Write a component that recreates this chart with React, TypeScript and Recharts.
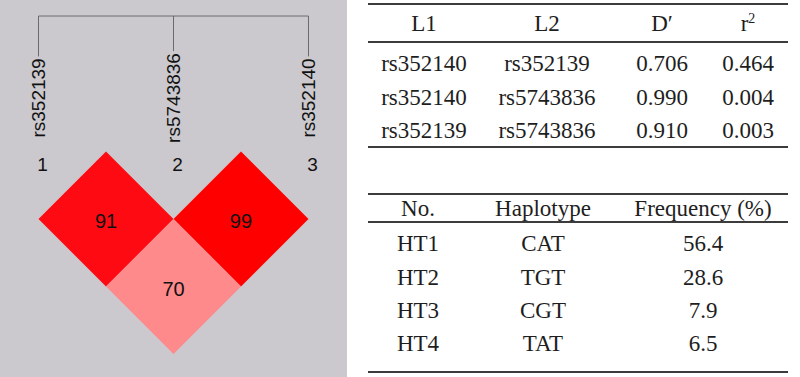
import React from 'react';
import { ScatterChart, Scatter, XAxis, YAxis, ReferenceLine } from 'recharts';

// ---- LD plot data ----
const MARKERS = ['rs352139', 'rs5743836', 'rs352140'];
const MARKER_NUMBERS = [1, 2, 3];
const LD_FIRST = [1, 2, 1];
const LD_SECOND = [2, 3, 3];
const LD_VALUES = [91, 99, 70];

// ---- table data ----
const LD_HEADERS = ['L1', 'L2', 'D\u2032', 'r'];
const LD_L1 = ['rs352140', 'rs352140', 'rs352139'];
const LD_L2 = ['rs352139', 'rs5743836', 'rs5743836'];
const LD_DPRIME = ['0.706', '0.990', '0.910'];
const LD_R2 = ['0.464', '0.004', '0.003'];

const HAP_HEADERS = ['No.', 'Haplotype', 'Frequency (%)'];
const HAP_NO = ['HT1', 'HT2', 'HT3', 'HT4'];
const HAP_SEQ = ['CAT', 'TGT', 'CGT', 'TAT'];
const HAP_FREQ = ['56.4', '28.6', '7.9', '6.5'];

// ---- layout ----
const PANEL_W = 347;
const PANEL_H = 377;
const X_DOMAIN: [number, number] = [0.7148, 3.2852];
const Y_DOMAIN: [number, number] = [-2.2444, 3.3407];
const PX_X = PANEL_W / (X_DOMAIN[1] - X_DOMAIN[0]);
const PX_Y = PANEL_H / (Y_DOMAIN[1] - Y_DOMAIN[0]);
const BRACKET_LEVEL = -2.007;
const NAME_LEVEL = -0.793;
const NUMBER_LEVEL = 0.2;
const NAME_FONT = 19;
const SANS = 'Liberation Sans, Arial, sans-serif';
const SERIF = '"Liberation Serif", "Times New Roman", serif';

const ldColor = (v: number) => (v >= 98 ? '#ff0000' : v >= 85 ? '#fe0a12' : '#ff8a8c');

const nameLen = (s: string) => {
  let w = 0;
  for (const ch of s) w += ch === 'r' ? 0.333 : ch === 's' ? 0.5 : 0.556;
  return w * NAME_FONT;
};

const cellData = LD_VALUES.map((v, i) => ({
  x: (LD_FIRST[i] + LD_SECOND[i]) / 2,
  y: LD_SECOND[i] - LD_FIRST[i],
  v,
}));
const nameData = MARKERS.map((name, i) => ({ x: MARKER_NUMBERS[i], y: NAME_LEVEL, name }));
const numberData = MARKER_NUMBERS.map((n) => ({ x: n, y: NUMBER_LEVEL, n }));

const Diamond = (props: any) => {
  const { cx, cy, payload } = props;
  const hx = 0.5 * PX_X;
  const hy = 1 * PX_Y;
  const pts = `${cx},${cy - hy} ${cx + hx},${cy} ${cx},${cy + hy} ${cx - hx},${cy}`;
  return (
    <g>
      <polygon points={pts} fill={ldColor(payload.v)} />
      <text x={cx} y={cy + 2} textAnchor="middle" dominantBaseline="central" fontSize={20} fontFamily={SANS} fill="#111">
        {payload.v}
      </text>
    </g>
  );
};

const NameLabel = (props: any) => {
  const { cx, cy, payload } = props;
  return (
    <text
      x={cx}
      y={cy}
      transform={`rotate(-90, ${cx}, ${cy})`}
      textAnchor="middle"
      dominantBaseline="central"
      fontSize={NAME_FONT}
      fontFamily={SANS}
      fill="#111"
    >
      {payload.name}
    </text>
  );
};

const NumberLabel = (props: any) => {
  const { cx, cy, payload } = props;
  return (
    <text x={cx + 4} y={cy} textAnchor="middle" dominantBaseline="central" fontSize={19} fontFamily={SANS} fill="#111">
      {payload.n}
    </text>
  );
};

const cellStyle = (x: number, y: number): React.CSSProperties => ({
  position: 'absolute',
  left: x,
  top: y,
  transform: 'translate(-50%, -50%)',
  whiteSpace: 'nowrap',
  fontFamily: SERIF,
  fontSize: 23,
  color: '#1e1e1e',
  lineHeight: 1,
});

const hLine = (y: number, w: number): React.CSSProperties => ({
  position: 'absolute',
  left: 368,
  top: y - w / 2,
  width: 420,
  height: w,
  background: '#3c3c3c',
});

const LD_COLS = [424, 547, 662, 748];
const LD_ROWS = [63, 97, 130];
const HAP_COLS = [418, 543, 703];
const HAP_ROWS = [243, 277, 310, 343];

export default function App() {
  return (
    <div style={{ position: 'absolute', left: 0, top: 0, width: 800, height: 377, background: '#ffffff', overflow: 'hidden' }}>
      <div style={{ position: 'absolute', left: 0, top: 0, width: PANEL_W, height: PANEL_H, background: '#cbc9ce' }}>
        <ScatterChart width={PANEL_W} height={PANEL_H} margin={{ top: 0, right: 0, bottom: 0, left: 0 }}>
          <XAxis type="number" dataKey="x" domain={X_DOMAIN} hide allowDataOverflow />
          <YAxis type="number" dataKey="y" domain={Y_DOMAIN} reversed hide allowDataOverflow />
          <ReferenceLine
            segment={[
              { x: MARKER_NUMBERS[0], y: BRACKET_LEVEL },
              { x: MARKER_NUMBERS[MARKER_NUMBERS.length - 1], y: BRACKET_LEVEL },
            ]}
            stroke="#6a6a6a"
            strokeWidth={1}
            ifOverflow="visible"
          />
          {MARKERS.map((name, i) => (
            <ReferenceLine
              key={name}
              segment={[
                { x: MARKER_NUMBERS[i], y: BRACKET_LEVEL },
                { x: MARKER_NUMBERS[i], y: NAME_LEVEL - (nameLen(name) / 2 + 2) / PX_Y },
              ]}
              stroke="#6a6a6a"
              strokeWidth={1}
              ifOverflow="visible"
            />
          ))}
          <Scatter data={cellData} shape={Diamond} isAnimationActive={false} />
          <Scatter data={nameData} shape={NameLabel} isAnimationActive={false} />
          <Scatter data={numberData} shape={NumberLabel} isAnimationActive={false} />
        </ScatterChart>
      </div>

      {/* LD table */}
      <div style={hLine(4, 2)} />
      <div style={hLine(42, 1.5)} />
      <div style={hLine(147, 2)} />
      {LD_HEADERS.map((h, i) => (
        <div key={h} style={cellStyle(LD_COLS[i], 23)}>
          {h}
          {i === 3 ? (
            <span style={{ fontSize: 14, position: 'relative', top: -8 }}>2</span>
          ) : null}
        </div>
      ))}
      {LD_L1.map((l1, r) => (
        <React.Fragment key={r}>
          <div style={cellStyle(LD_COLS[0], LD_ROWS[r])}>{l1}</div>
          <div style={cellStyle(LD_COLS[1], LD_ROWS[r])}>{LD_L2[r]}</div>
          <div style={cellStyle(LD_COLS[2], LD_ROWS[r])}>{LD_DPRIME[r]}</div>
          <div style={cellStyle(LD_COLS[3], LD_ROWS[r])}>{LD_R2[r]}</div>
        </React.Fragment>
      ))}

      {/* Haplotype table */}
      <div style={hLine(194, 2)} />
      <div style={hLine(222, 1.5)} />
      <div style={hLine(372, 2)} />
      {HAP_HEADERS.map((h, i) => (
        <div key={h} style={cellStyle(HAP_COLS[i], 208)}>
          {h}
        </div>
      ))}
      {HAP_NO.map((no, r) => (
        <React.Fragment key={no}>
          <div style={cellStyle(HAP_COLS[0], HAP_ROWS[r])}>{no}</div>
          <div style={cellStyle(HAP_COLS[1], HAP_ROWS[r])}>{HAP_SEQ[r]}</div>
          <div style={cellStyle(HAP_COLS[2], HAP_ROWS[r])}>{HAP_FREQ[r]}</div>
        </React.Fragment>
      ))}
    </div>
  );
}
